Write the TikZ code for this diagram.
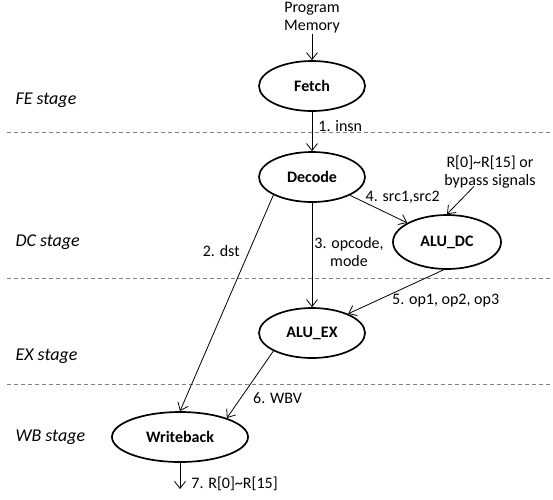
\documentclass[tikz,border=0pt]{standalone}
\usepackage{fontspec}
\setmainfont{Carlito}
\usetikzlibrary{shapes,arrows.meta,positioning,calc}

\tikzset{
    unit/.style={draw, ellipse, line width=1.7pt, minimum width=106pt, minimum height=50pt, inner sep=0pt, font=\fontsize{16pt}{18pt}\selectfont\bfseries},
    stagename/.style={anchor=west, font=\fontsize{18pt}{20pt}\selectfont\itshape},
    stageline/.style={gray, line width=0.8pt, dash pattern=on 4pt off 3pt},
    signal/.style={->, line width=0.8pt},
    sig-label/.style={inner sep=1pt, align=center},
}

\begin{document}
\begin{tikzpicture}[x=1pt, y=-1pt, >={Straight Barb[length=7pt,width=11pt]}, font=\fontsize{16pt}{18pt}\selectfont]
    \useasboundingbox (0,0) rectangle (553,499);

    % Stages
    \draw[stageline] (7,132) -- (553,132);
    \draw[stageline] (7,278) -- (553,278);
    \draw[stageline] (7,384) -- (553,384);
    \node[stagename] (fe-stage) at (12,100) {FE stage};
    \node[stagename] (dc-stage) at (12,242) {DC stage};
    \node[stagename] (ex-stage) at (12,356) {EX stage};
    \node[stagename] (wb-stage) at (12,437) {WB stage};

    % Units
    \node[unit] (fetch) at (312,86) {Fetch};
    \node[unit] (decode) at (312,177) {Decode};
    \node[unit, minimum width=108pt, minimum height=54pt] (alu-dc) at (447,242) {ALU\_DC};
    \node[unit] (alu-ex) at (312,333) {ALU\_EX};
    \node[unit, minimum width=136pt] (writeback) at (180,437) {Writeback};

    % Sources and sinks
    \node[align=center, inner sep=1pt, above=26pt of fetch] (prog-mem) {Program\\Memory};
    \node[align=center, inner sep=1pt] (reg-in) at (490,172) {R[0]\textasciitilde R[15] or\\bypass signals};
    \coordinate (wb-out) at (180,489);

    % Signals
    \draw[signal] (prog-mem) -- (fetch);
    \draw[signal] (fetch) -- node[sig-label, pos=0.35, right=5pt] {1. insn} (decode);
    \draw[signal] (decode.205) -- node[sig-label, pos=0.26, left=8pt] {2. dst} (writeback.north);
    \draw[signal] (decode) -- node[sig-label, pos=0.47, right=1pt] {3. opcode,\\mode} (alu-ex);
    \draw[signal] (decode) -- node[sig-label, pos=0.25, anchor=south west, yshift=-3pt] {4. src1,src2} (alu-dc);
    \draw[signal] ([xshift=-16pt, yshift=3pt]reg-in.south) -- (alu-dc.north);
    \draw[signal] (alu-dc.263) -- node[sig-label, pos=0.7, right=14pt] {5. op1, op2, op3} (alu-ex.28);
    \draw[signal] (alu-ex.205) -- node[sig-label, pos=0.7, right=11pt] {6. WBV} (writeback.22);
    \draw[signal] (writeback) -- node[sig-label, pos=0.8, right=10pt] {7. R[0]\textasciitilde R[15]} (wb-out);
\end{tikzpicture}
\end{document}
